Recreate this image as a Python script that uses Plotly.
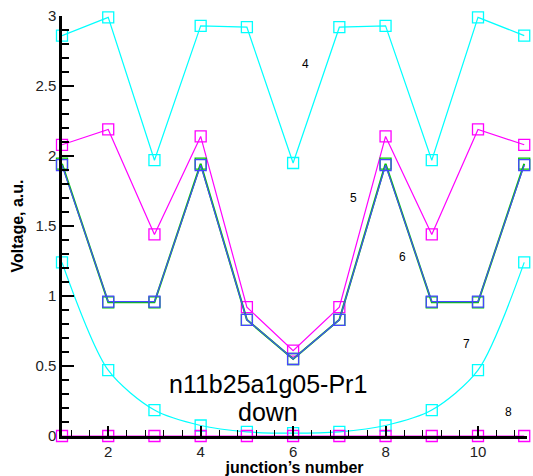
import plotly.graph_objects as go

junction = [1, 2, 3, 4, 5, 6, 7, 8, 9, 10, 11]
series4 = [2.86, 2.99, 1.97, 2.93, 2.92, 1.95, 2.92, 2.93, 1.97, 2.99, 2.86]
series5 = [2.08, 2.19, 1.44, 2.14, 0.92, 0.61, 0.92, 2.14, 1.44, 2.19, 2.08]
series6g = [1.945, 0.955, 0.955, 1.945, 0.83, 0.55, 0.83, 1.945, 0.955, 0.955, 1.945]
series6b = [1.935, 0.96, 0.96, 1.935, 0.83, 0.55, 0.83, 1.935, 0.96, 0.96, 1.935]
series7 = [1.24, 0.47, 0.185, 0.075, 0.03, 0.02, 0.03, 0.075, 0.185, 0.47, 1.24]
series8 = [0, 0, 0, 0, 0, 0, 0, 0, 0, 0, 0]

curve_labels = ["4", "5", "6", "7", "8"]
label_x = [6.27, 7.31, 8.36, 9.75, 10.65]
label_y = [2.66, 1.70, 1.28, 0.66, 0.17]

x_ticks = [2, 4, 6, 8, 10]

CYAN = "#00FFFF"
MAG = "#FF00FF"
GREEN = "#00C800"
BLUE = "#4646FF"

fig = go.Figure()

def add(y, color, shape="linear", width=1.2):
    fig.add_trace(go.Scatter(
        x=junction, y=y, mode="lines+markers",
        line=dict(color=color, width=width, shape=shape, smoothing=0.8),
        marker=dict(symbol="square-open", size=11, color=color, line=dict(width=1.3, color=color)),
        cliponaxis=False, showlegend=False,
    ))

add(series4, CYAN)
add(series5, MAG)
add(series6g, GREEN, width=2)
add(series6b, BLUE)
add(series7, CYAN, shape="spline")
add(series8, MAG)

for t, x, y in zip(curve_labels, label_x, label_y):
    fig.add_annotation(x=x, y=y, text=t, showarrow=False,
                       font=dict(family="Liberation Sans", size=12, color="black"))

fig.add_annotation(x=5.45, y=0.375, text="n11b25a1g05-Pr1", showarrow=False,
                   font=dict(family="Liberation Sans", size=25, color="black"))
fig.add_annotation(x=5.45, y=0.17, text="down", showarrow=False,
                   font=dict(family="Liberation Sans", size=25, color="black"))

axis_common = dict(
    showline=True, linecolor="black", linewidth=2.5,
    ticks="inside", tickcolor="black", tickwidth=2,
    showgrid=False, zeroline=False, automargin=False,
    tickfont=dict(family="Liberation Sans", size=15, color="#222"),
)

fig.update_xaxes(
    range=[1, 11.06], tickvals=x_ticks, ticklen=10,
    minor=dict(dtick=0.4, tick0=0, ticks="inside", ticklen=6, tickwidth=1, tickcolor="black"),
    title=dict(text="junction\u2019s number", standoff=7,
               font=dict(family="Liberation Sans", size=16, color="black", weight="bold")),
    **axis_common,
)
fig.update_yaxes(
    range=[0, 3], dtick=0.5, tick0=0, ticklen=12,
    minor=dict(dtick=0.1, tick0=0, ticks="inside", ticklen=7, tickwidth=1.5, tickcolor="black"),
    title=dict(text="Voltage, a.u.", standoff=8,
               font=dict(family="Liberation Sans", size=16, color="black", weight="bold")),
    **axis_common,
)

fig.update_layout(
    width=533, height=476,
    margin=dict(l=62, r=6, t=16, b=40),
    plot_bgcolor="white", paper_bgcolor="white",
)

fig.write_html("out.html")
